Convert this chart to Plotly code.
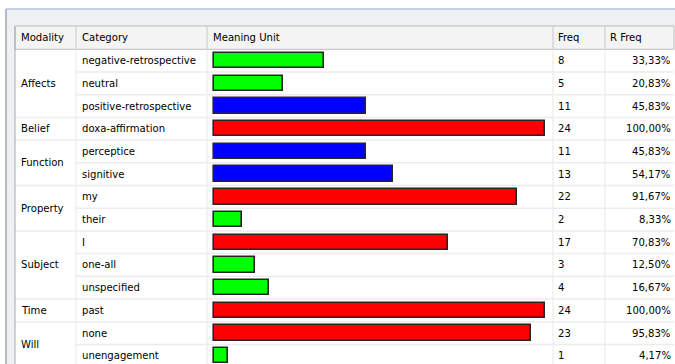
import plotly.graph_objects as go

# ---- table content -------------------------------------------------------
modality = ["Affects", "Affects", "Affects", "Belief", "Function", "Function",
            "Property", "Property", "Subject", "Subject", "Subject", "Time",
            "Will", "Will"]
category = ["negative-retrospective", "neutral", "positive-retrospective",
            "doxa-affirmation", "perceptice", "signitive", "my", "their", "I",
            "one-all", "unspecified", "past", "none", "unengagement"]
freq = [8, 5, 11, 24, 11, 13, 22, 2, 17, 3, 4, 24, 23, 1]
rfreq = [33.33, 20.83, 45.83, 100.00, 45.83, 54.17, 91.67, 8.33, 70.83,
         12.50, 16.67, 100.00, 95.83, 4.17]
bar_color = ["#00ff00", "#00ff00", "#0000ff", "#ff0000", "#0000ff", "#0000ff",
             "#ff0000", "#00ff00", "#ff0000", "#00ff00", "#00ff00", "#ff0000",
             "#ff0000", "#00ff00"]
headers = ["Modality", "Category", "Meaning Unit", "Freq", "R Freq"]

# ---- geometry (pixels) ---------------------------------------------------
W, H = 675, 364
ROW_TOP = 49.3          # first data row starts here
ROW_H = 22.7            # row height
HEAD_TOP = 26.0
BAR_X0 = 214.0          # where 0 % sits
BAR_PX_PER_PCT = 3.31   # 100 % -> 331 px
COL_SEP = [76, 207, 553, 605]
TABLE_L, TABLE_R = 15, 674

FONT = "DejaVu Sans Condensed, Liberation Sans Narrow, Arial Narrow, sans-serif"
FS = 11.2


def px(x):
    return x / W


def py(y):
    return 1 - y / H


# y axis in "row units": 0 = top of first row
y_top = -ROW_TOP / ROW_H
y_bot = (H - ROW_TOP) / ROW_H
# x axis in percent
x_left = -BAR_X0 / BAR_PX_PER_PCT
x_right = (W - BAR_X0) / BAR_PX_PER_PCT

n = len(category)
rows = [i + 0.5 for i in range(n)]

fig = go.Figure()
fig.add_trace(go.Bar(
    x=rfreq, y=rows, base=0, orientation="h", width=0.68,
    marker=dict(color=bar_color, line=dict(color="#262626", width=1.6)),
    hoverinfo="skip", showlegend=False,
))

shapes = []
# window chrome: top strip and left frame
shapes.append(dict(type="rect", xref="paper", yref="paper", x0=px(6), x1=1,
                   y0=py(HEAD_TOP), y1=py(9), fillcolor="#eef0f3", line_width=0, layer="below"))
shapes.append(dict(type="rect", xref="paper", yref="paper", x0=px(6), x1=px(TABLE_L),
                   y0=0, y1=py(9), fillcolor="#eef0f3", line_width=0, layer="below"))
shapes.append(dict(type="line", xref="paper", yref="paper", x0=px(6), x1=1,
                   y0=py(9), y1=py(9), line=dict(color="#c5d0e6", width=2)))
shapes.append(dict(type="line", xref="paper", yref="paper", x0=px(6), x1=px(6),
                   y0=0, y1=py(9), line=dict(color="#9aa4b4", width=1.5)))
# header band
shapes.append(dict(type="rect", xref="paper", yref="paper", x0=px(TABLE_L), x1=px(TABLE_R),
                   y0=py(ROW_TOP), y1=py(HEAD_TOP), fillcolor="#f4f4f4",
                   line=dict(color="#bdbdbd", width=1), layer="below"))
shapes.append(dict(type="line", xref="paper", yref="paper", x0=px(TABLE_L), x1=px(TABLE_L),
                   y0=0, y1=py(HEAD_TOP), line=dict(color="#a8a8a8", width=1)))
# column separators
for c in COL_SEP:
    shapes.append(dict(type="line", xref="paper", yref="paper", x0=px(c), x1=px(c),
                       y0=py(ROW_TOP), y1=py(HEAD_TOP), line=dict(color="#c8c8c8", width=1)))
    shapes.append(dict(type="line", xref="paper", yref="paper", x0=px(c), x1=px(c),
                       y0=0, y1=py(ROW_TOP), line=dict(color="#ececec", width=1.2), layer="below"))

# row separators; the modality column only splits between groups
for k in range(1, n + 1):
    if k < n and modality[k] == modality[k - 1]:
        x_start = COL_SEP[0]
    else:
        x_start = TABLE_L
    shapes.append(dict(type="line", xref="paper", yref="y", x0=px(x_start), x1=px(TABLE_R),
                       y0=k, y1=k, line=dict(color="#ececec", width=1.5), layer="below"))

annotations = []


def cell(text, x, y, anchor="left", yref="y"):
    annotations.append(dict(text=text, x=px(x), y=y, xref="paper", yref=yref,
                            xanchor=anchor, yanchor="middle", showarrow=False,
                            font=dict(family=FONT, size=FS, color="#000000")))


# header labels
head_y = (HEAD_TOP + ROW_TOP) / 2
head_x = [19, 80, 211, 556, 608]
for t, x in zip(headers, head_x):
    cell(t, x, py(head_y), yref="paper")

# data cells
for i in range(n):
    cell(category[i], 80, rows[i])
    cell(str(freq[i]), 556, rows[i])
    cell(f"{rfreq[i]:.2f}".replace(".", ",") + "%", 673, rows[i], anchor="right")

# modality labels centred in their groups
start = 0
for i in range(1, n + 1):
    if i == n or modality[i] != modality[start]:
        cell(modality[start], 19, (start + i) / 2)
        start = i

fig.update_layout(
    width=W, height=H, margin=dict(l=0, r=0, t=0, b=0),
    paper_bgcolor="#ffffff", plot_bgcolor="rgba(0,0,0,0)",
    xaxis=dict(range=[x_left, x_right], domain=[0, 1], visible=False, fixedrange=True),
    yaxis=dict(range=[y_bot, y_top], domain=[0, 1], visible=False, fixedrange=True),
    shapes=shapes, annotations=annotations, bargap=0,
)

fig.write_html("out.html")
